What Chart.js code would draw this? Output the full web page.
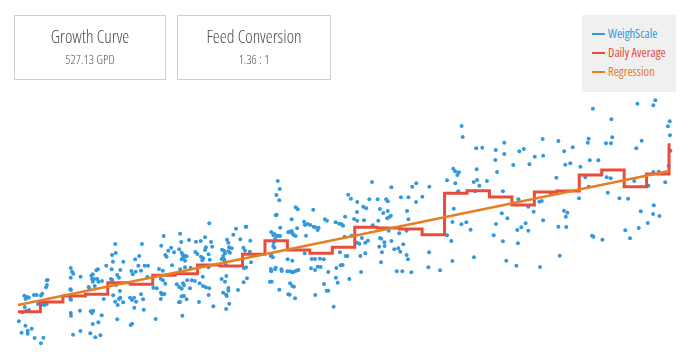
<!DOCTYPE html>
<html>
<head>
<meta charset="utf-8">
<script src="https://cdn.jsdelivr.net/npm/chart.js@4.4.1/dist/chart.umd.min.js"></script>
<style>
  html, body { margin: 0; padding: 0; background: #fff; }
  body { width: 690px; height: 356px; position: relative; overflow: hidden;
         font-family: "Open Sans", "Liberation Sans Narrow", sans-serif; font-stretch: 75%; }
  #wrap { position: absolute; left: 0; top: 0; width: 690px; height: 356px; }
  .card { position: absolute; top: 15px; height: 63px; border: 1px solid #cfcfcf; box-sizing: content-box;
          text-align: center; color: #4d4d4d; }
  .card .t { font-size: 17.6px; font-weight: 300; margin-top: 8px; line-height: 24px; }
  .card .s { font-size: 12.8px; font-weight: 300; margin-top: 3px; line-height: 16px; color: #4f5566; }
  #legend { position: absolute; left: 582px; top: 15px; width: 94px; height: 77px; background: #f0f0f0;
            font-size: 12.5px; }
  .li { position: absolute; left: 10px; height: 16px; line-height: 16px; white-space: nowrap; }
  .li i { display: inline-block; width: 13px; height: 2px; vertical-align: middle; margin-right: 3px; position: relative; top: -1px; }
</style>
</head>
<body>
<div id="wrap"><canvas id="c" width="690" height="356"></canvas></div>
<div class="card" style="left:14px;width:150px;"><div class="t">Growth Curve</div><div class="s">527.13 GPD</div></div>
<div class="card" style="left:177px;width:152px;"><div class="t">Feed Conversion</div><div class="s">1.36 : 1</div></div>
<div id="legend"></div>
<script>
// ---- data (days since start, weight in kg) ----
const seriesNames = ["WeighScale", "Daily Average", "Regression"];
const seriesColors = ["#3498db", "#e74c3c", "#e67e22"];

// individual scale weighings
const weighDays = [
0.04,0.16,0.33,0.43,0.43,0.61,0.74,1.02,1.13,0.28,0.34,0.41,0.48,0.30,0.36,0.19,0.49,0.71,0.83,1.02,1.08,0.89,1.08,1.17,1.28,1.25,1.29,1.28,1.32,
2.35,2.41,2.46,2.35,2.33,2.36,2.33,2.36,2.79,2.35,2.36,2.45,2.76,2.78,3.15,3.19,3.27,3.33,3.30,3.33,3.39,3.42,3.53,3.58,3.49,3.56,3.74,3.24,3.30,3.35,3.33,3.58,3.73,3.22,3.44,3.67,
3.82,3.93,4.17,4.33,4.19,4.35,4.23,4.14,4.20,4.42,4.50,4.56,4.69,4.24,4.33,4.44,4.50,4.56,4.68,4.54,4.38,4.42,
5.02,5.08,4.99,5.08,5.17,5.26,5.18,5.05,5.11,5.24,5.22,5.36,5.40,5.52,5.48,5.64,5.79,5.48,5.57,5.60,5.76,
6.03,6.18,6.13,6.28,6.45,6.36,6.46,6.56,6.37,6.41,6.52,6.36,6.38,6.49,6.56,6.62,6.69,6.82,6.86,6.95,
7.22,7.27,7.18,7.29,7.34,7.38,7.44,7.51,7.29,7.44,7.62,7.22,7.44,7.69,7.07,7.18,7.29,7.39,7.35,7.54,7.74,7.66,7.29,7.39,7.51,7.17,7.22,7.32,
7.93,8.14,7.90,7.99,8.33,8.37,8.33,8.52,8.60,8.65,8.15,8.21,8.25,8.49,8.54,8.48,8.52,8.23,7.88,8.09,8.24,8.37,8.52,8.49,8.06,8.70,
9.09,9.18,9.22,9.14,9.07,9.16,9.40,9.37,9.44,9.52,9.31,9.37,9.59,9.71,9.22,9.25,9.19,9.07,9.22,9.28,9.14,9.27,9.30,9.37,9.37,9.41,9.27,9.80,
9.90,10.14,10.17,10.04,10.11,10.35,10.33,10.16,10.07,10.05,10.20,10.38,
11.28,11.37,11.42,11.52,11.59,11.67,11.45,11.39,11.37,11.42,11.51,11.66,11.57,11.64,11.52,11.48,11.68,11.26,11.35,11.28,11.26,11.28,11.48,11.45,11.22,11.30,11.64,11.73,11.75,
12.01,12.22,12.08,12.19,12.22,12.28,12.04,12.19,12.37,12.46,12.43,12.37,12.00,12.12,12.22,12.29,12.40,12.49,12.12,12.22,12.29,12.04,12.10,12.34,
12.74,12.78,12.89,13.02,13.17,13.24,13.35,13.39,13.15,12.83,12.77,13.08,13.23,13.45,13.05,13.23,13.35,13.48,13.24,13.62,13.67,13.76,13.63,13.75,13.82,13.82,
14.06,14.15,14.31,14.42,14.48,14.18,14.37,14.46,14.16,14.24,14.55,14.57,14.71,14.83,15.11,15.10,14.97,15.11,14.86,14.34,14.60,14.67,14.76,
15.10,15.20,15.32,15.47,15.59,15.25,15.47,15.28,15.38,15.51,15.41,15.65,15.77,15.80,
16.02,16.12,16.27,16.05,16.40,16.47,16.47,16.44,16.53,16.61,16.51,16.63,16.12,16.18,16.32,16.33,16.09,16.21,16.17,16.63,16.76,16.94,
17.03,16.98,17.16,17.31,17.37,16.87,17.12,17.52,17.06,17.39,17.33,17.39,17.31,17.56,17.74,17.73,
18.01,18.32,18.31,18.28,18.80,19.11,19.39,19.47,19.57,19.64,19.48,19.61,19.41,19.35,19.76,19.81,19.75,19.97,
20.16,19.11,19.30,19.35,20.31,20.41,20.68,20.43,20.30,20.45,20.55,20.89,20.36,
21.28,21.66,21.66,21.26,21.34,21.60,21.55,21.80,21.29,21.19,21.60,21.75,
22.06,22.33,22.53,22.29,22.24,22.42,22.61,22.73,22.27,22.20,22.78,22.73,22.97,
23.02,23.22,23.33,23.25,23.37,23.39,23.39,23.98,23.74,
24.07,24.33,24.38,24.60,24.32,24.47,24.40,24.07,24.42,24.13,24.71,
25.05,24.99,25.27,25.42,25.38,25.42,25.47,25.85,25.61,25.57,25.63,
26.03,26.22,26.40,26.27,26.19,26.41,26.47,26.43,26.79,
27.18,27.05,27.26,27.45,27.65,27.74,27.54,27.78,27.59,
28.08,28.05,28.30,28.54,28.30,28.39,28.32,28.29,28.57,28.83,28.95,29.03,29.04,29.06,28.98
];
const weighKg = [
17.87,16.73,17.43,16.93,16.63,17.13,16.2,15.67,16.23,20.43,20.1,20.3,20.23,19.3,18.9,18.77,19.0,20.5,20.5,20.43,20.63,19.6,19.57,19.5,19.6,21.27,21.5,21.97,22.0,
23.2,22.83,22.63,22.23,21.07,21.0,20.13,20.03,22.33,18.7,18.43,16.53,18.93,16.9,21.3,21.07,22.43,22.57,22.1,21.83,22.1,21.4,22.1,21.83,22.97,23.07,21.9,18.87,18.7,18.93,17.6,17.77,18.47,16.67,16.27,16.47,
20.1,23.43,23.07,25.6,24.5,24.7,23.83,22.1,22.0,22.5,22.23,23.0,23.83,20.47,19.83,19.5,20.1,20.23,19.77,20.9,21.5,18.07,
17.5,17.63,20.23,20.0,20.23,19.83,19.23,22.9,22.57,22.83,24.07,23.43,24.4,25.6,22.93,23.43,23.43,20.57,20.07,19.03,22.3,
21.23,21.17,18.1,23.1,22.93,22.13,21.97,21.63,20.73,20.57,20.6,20.1,25.43,26.4,24.5,24.33,24.93,25.23,23.47,24.77,
26.63,25.8,25.07,24.73,24.5,24.27,24.4,24.37,24.07,23.93,26.0,23.07,23.27,23.23,21.57,21.3,21.13,21.47,21.67,21.97,21.97,21.17,20.37,20.4,20.07,19.77,19.8,18.43,
25.83,25.9,24.8,24.6,26.27,25.27,25.0,27.67,25.8,25.33,24.33,23.97,24.17,24.57,24.03,23.27,23.43,22.33,21.9,21.67,21.4,21.27,21.17,20.5,19.8,19.37,
25.03,24.93,24.67,24.4,24.1,24.13,25.27,24.87,24.73,25.17,26.03,25.73,26.53,27.13,23.8,23.53,24.0,22.1,21.83,22.4,20.73,20.53,20.4,21.2,20.93,19.63,19.1,21.0,
26.07,27.33,27.33,25.23,24.93,25.93,24.83,23.27,23.17,21.77,22.17,23.77,
26.8,26.5,26.6,26.4,26.43,26.4,26.1,25.77,25.4,25.23,30.5,31.1,31.9,29.97,28.53,28.47,27.23,24.4,24.27,24.5,23.1,22.87,23.23,23.07,21.83,21.83,21.03,23.07,22.9,
24.07,23.93,26.83,26.9,26.67,26.5,26.77,28.07,29.27,29.07,27.17,26.4,22.87,22.87,22.77,22.83,22.93,23.0,21.67,21.4,21.33,20.57,20.53,20.17,
27.83,27.5,27.6,27.5,27.33,27.27,27.0,27.23,29.03,26.43,24.67,24.1,24.1,24.13,23.17,23.0,23.33,23.3,20.5,24.07,28.07,27.93,21.6,20.93,20.93,22.8,
19.33,27.77,27.63,27.57,27.43,23.2,23.47,23.5,22.23,21.73,26.33,28.33,30.53,30.13,29.8,28.8,28.1,27.93,26.43,24.77,24.4,24.4,22.1,
25.73,25.63,26.2,25.73,25.93,24.4,24.67,22.8,29.33,29.17,27.97,30.07,31.8,27.47,
30.07,29.1,28.7,27.93,30.07,29.87,28.9,28.17,28.27,28.43,26.93,31.27,26.2,26.13,25.77,25.4,25.33,24.77,23.77,25.9,25.07,25.17,
24.83,26.67,25.57,24.5,24.07,22.87,22.87,22.77,30.27,30.27,28.9,28.07,26.93,31.33,31.67,29.8,
30.33,31.33,24.77,23.27,22.97,31.97,33.13,32.87,32.5,32.77,31.67,30.87,29.13,27.8,37.4,36.3,27.57,27.77,
27.03,26.47,25.9,23.9,24.27,35.17,35.23,33.07,31.8,32.0,31.43,31.9,30.87,
35.0,35.73,34.6,34.0,32.8,30.87,28.67,28.17,27.6,26.47,25.87,23.93,
33.5,34.87,35.1,30.07,27.0,27.27,27.67,26.93,25.67,23.43,33.57,29.33,28.83,
34.33,29.83,29.9,23.3,36.1,34.43,27.97,32.23,30.63,
35.9,34.87,33.53,33.67,28.93,28.73,28.33,27.33,27.3,24.43,35.27,
33.33,30.17,32.27,31.33,35.73,36.13,33.97,33.97,39.13,26.43,26.33,
26.03,32.27,32.17,30.73,35.67,35.67,36.27,38.07,30.17,
30.13,26.97,26.17,31.9,27.2,28.87,35.17,35.93,39.63,
31.43,27.7,32.8,32.83,39.47,39.97,29.47,28.6,28.4,31.77,37.37,37.87,36.47,34.93,33.4
];

// daily average weight (day 0 .. 29)
const avgDays = [0,1,2,3,4,5,6,7,8,9,10,11,12,13,14,15,16,17,18,19,20,21,22,23,24,25,26,27,28,29];
const avgKg = [18.83,19.8,20.4,20.57,21.73,21.57,22.47,22.63,23.5,23.4,24.57,25.93,25.0,24.67,25.27,
               27.27,27.2,27.1,26.53,30.67,30.93,30.3,29.5,30.8,30.9,32.5,33.0,31.33,32.6,35.67];

// regression line end points
const regDays = [0, 29];
const regKg = [19.5, 32.9];

// ---- build ----
const scatterPts = weighDays.map((d, i) => ({ x: d, y: weighKg[i] }));
const avgPts = avgDays.map((d, i) => ({ x: d, y: avgKg[i] }));
const regPts = regDays.map((d, i) => ({ x: d, y: regKg[i] }));

new Chart(document.getElementById('c'), {
  type: 'scatter',
  data: {
    datasets: [
      { type: 'line', label: seriesNames[2], data: regPts, borderColor: seriesColors[2], borderWidth: 2.3,
        pointRadius: 0, fill: false, clip: false, order: 1 },
      { type: 'line', label: seriesNames[1], data: avgPts, borderColor: seriesColors[1], borderWidth: 3,
        stepped: 'before', pointRadius: 0, fill: false, clip: false, order: 2 },
      { type: 'scatter', label: seriesNames[0], data: scatterPts, backgroundColor: seriesColors[0],
        borderWidth: 0, pointRadius: 2, clip: false, order: 3 }
    ]
  },
  options: {
    responsive: false, animation: false, events: [],
    layout: { padding: { left: 18, right: 19.6, top: 90, bottom: 6 } },
    plugins: { legend: { display: false }, tooltip: { enabled: false } },
    scales: {
      x: { type: 'linear', min: 0, max: 29.06, display: false },
      y: { type: 'linear', min: 15, max: 41, display: false }
    }
  }
});

// HTML legend
const lg = document.getElementById('legend');
seriesNames.forEach((n, i) => {
  const d = document.createElement('div');
  d.className = 'li';
  d.style.top = (11 + i * 19.2) + 'px';
  d.style.color = seriesColors[i];
  d.innerHTML = '<i style="background:' + seriesColors[i] + '"></i>' + n;
  lg.appendChild(d);
});
</script>
</body>
</html>
